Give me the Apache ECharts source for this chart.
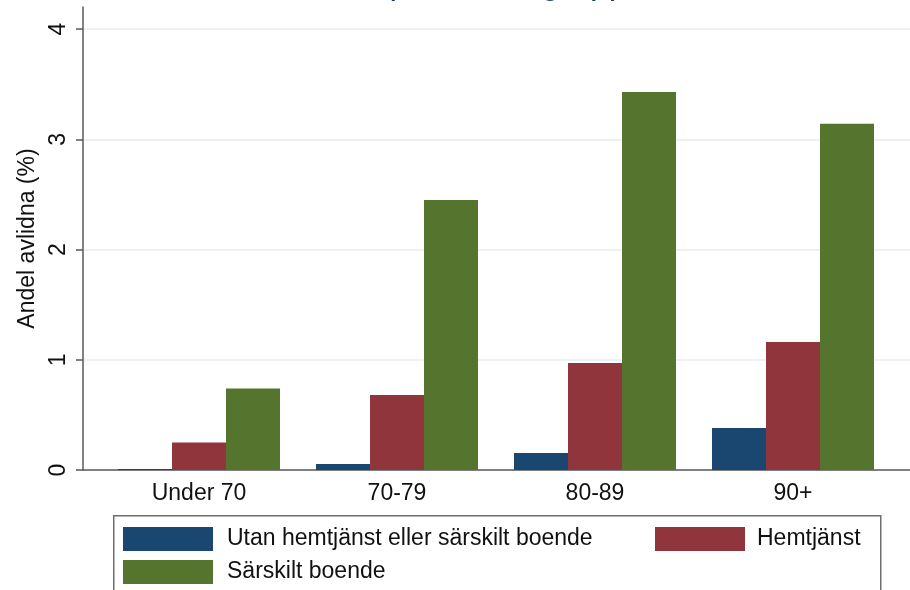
<!DOCTYPE html>
<html>
<head>
<meta charset="utf-8">
<script src="https://cdn.jsdelivr.net/npm/echarts@6/dist/echarts.min.js"></script>
<style>
  html, body { margin: 0; padding: 0; background: #fff; }
  #chart { width: 910px; height: 590px; }
</style>
</head>
<body>
<div id="chart"></div>
<script>
// data
var categories = ['Under 70', '70-79', '80-89', '90+'];
var utan = [0.01, 0.055, 0.155, 0.38];
var hemtjanst = [0.25, 0.68, 0.97, 1.16];
var sarskilt = [0.74, 2.45, 3.43, 3.14];
var yTicks = [0, 1, 2, 3, 4];

var fontFam = '"Liberation Sans", Arial, sans-serif';
var navy = '#1a476f', maroon = '#90353b', green = '#55752f';

var chart = echarts.init(document.getElementById('chart'));
chart.setOption({
  animation: false,
  title: {
    text: 'Andel avlidna per åldersgrupp',
    left: 176,
    top: -32,
    padding: 0,
    textStyle: { fontFamily: fontFam, fontSize: 34, fontWeight: 'normal', color: '#1c3f66' }
  },
  grid: [
    // grid 0: y axis, grid lines and the x axis line
    { left: 83, right: 0, top: 7, bottom: 120 },
    // grid 1: the bars
    { left: 100, right: 18, top: 7, bottom: 120 }
  ],
  xAxis: [
    {
      gridIndex: 0, type: 'value', min: 0, max: 1,
      axisLine: { show: true, lineStyle: { color: '#5a5a5a', width: 1.5 } },
      axisTick: { show: false }, axisLabel: { show: false }, splitLine: { show: false }
    },
    {
      gridIndex: 1, type: 'category', data: categories,
      axisLine: { show: false }, axisTick: { show: false },
      axisLabel: { margin: 12, fontFamily: fontFam, fontSize: 23, color: '#111' }
    }
  ],
  yAxis: [
    {
      gridIndex: 0, type: 'value', min: 0, max: 4.2,
      name: 'Andel avlidna (%)', nameLocation: 'middle', nameGap: 40, nameRotate: 90,
      nameTextStyle: { fontFamily: fontFam, fontSize: 23, color: '#111' },
      axisLine: { show: true, lineStyle: { color: '#5a5a5a', width: 1.5 } },
      axisTick: { show: true, length: 7, customValues: yTicks, lineStyle: { color: '#5a5a5a', width: 1.5 } },
      axisLabel: { rotate: 90, margin: 13, customValues: yTicks, fontFamily: fontFam, fontSize: 23, color: '#111' },
      splitLine: { show: true, lineStyle: { color: '#e6eef1', width: 1.5 } }
    },
    {
      gridIndex: 1, type: 'value', min: 0, max: 4.2, show: false
    }
  ],
  legend: [
    {
      orient: 'vertical', left: 123, top: 527, padding: 0,
      itemWidth: 90, itemHeight: 24, itemGap: 9,
      icon: 'rect',
      data: ['Utan hemtjänst eller särskilt boende', 'Särskilt boende'],
      textStyle: { fontFamily: fontFam, fontSize: 23, color: '#111', padding: [3, 0, 0, 9] }
    },
    {
      orient: 'vertical', left: 655, top: 527, padding: 0,
      itemWidth: 90, itemHeight: 24, itemGap: 9,
      icon: 'rect',
      data: ['Hemtjänst'],
      textStyle: { fontFamily: fontFam, fontSize: 23, color: '#111', padding: [3, 0, 0, 7] }
    }
  ],
  graphic: [
    {
      type: 'rect', left: 113, top: 515, z: -1,
      shape: { width: 767, height: 90 },
      style: { fill: '#fff', stroke: '#6e6e6e', lineWidth: 1.5 }
    }
  ],
  series: [
    { name: 'Utan hemtjänst eller särskilt boende', type: 'bar', xAxisIndex: 1, yAxisIndex: 1,
      data: utan, barWidth: 54, barGap: '0%', itemStyle: { color: navy } },
    { name: 'Hemtjänst', type: 'bar', xAxisIndex: 1, yAxisIndex: 1,
      data: hemtjanst, barWidth: 54, barGap: '0%', itemStyle: { color: maroon } },
    { name: 'Särskilt boende', type: 'bar', xAxisIndex: 1, yAxisIndex: 1,
      data: sarskilt, barWidth: 54, barGap: '0%', itemStyle: { color: green } }
  ]
});
</script>
</body>
</html>
